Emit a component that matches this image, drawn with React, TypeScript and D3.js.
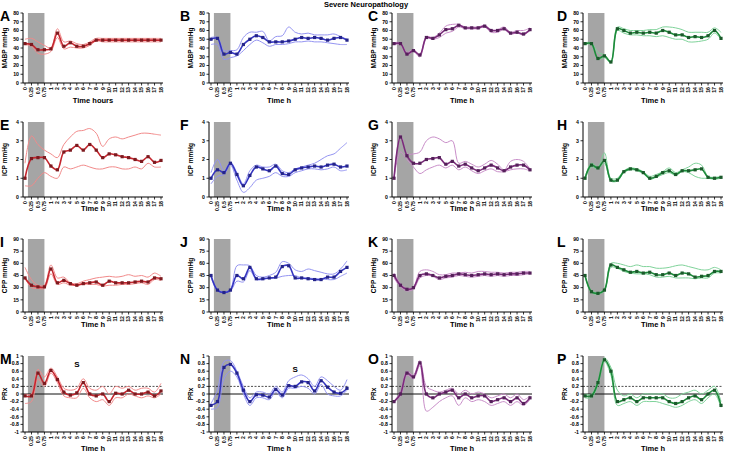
import * as d3 from "d3";
import React from "react";

const timeLabels = ["0", "0.25", "0.5", "0.75", "1", "2", "3", "4", "5", "6", "7", "8", "9", "10", "11", "12", "13", "14", "15", "16", "17", "18"];

// MABP
const aMean = [45, 44, 38, 38, 39, 57, 42, 46, 42, 42, 45, 49, 49, 49, 49, 49, 49, 49, 49, 49, 49, 49];
const aHigh = [50, 51, 47, 43, 40, 62, 47, 48, 45, 44, 47, 51, 51, 51, 51, 51, 51, 51, 51, 51, 51, 51];
const aLow = [44, 42, 34, 33, 36, 52, 39, 41, 40, 40, 43, 48, 47, 47, 47, 47, 47, 47, 47, 47, 47, 47];
const bMean = [50, 51, 33, 35, 33, 44, 50, 54, 52, 47, 47, 47, 48, 50, 52, 51, 52, 51, 49, 51, 52, 49];
const bHigh = [52, 52, 37, 37, 38, 52, 58, 58, 59, 48, 53, 54, 64, 58, 56, 57, 55, 55, 55, 56, 53, 50];
const bLow = [44, 44, 27, 29, 31, 37, 44, 49, 46, 42, 44, 44, 45, 47, 47, 48, 47, 47, 46, 45, 44, 44];
const cMean = [45, 45, 33, 37, 32, 52, 51, 55, 61, 62, 66, 63, 63, 63, 65, 60, 60, 62, 57, 58, 56, 61];
const cHigh = [46, 46, 35, 38, 33, 53, 52, 57, 65, 67, 67, 64, 64, 64, 66, 61, 61, 64, 58, 60, 60, 63];
const cLow = [44, 44, 32, 36, 30, 51, 50, 52, 57, 59, 64, 62, 62, 62, 64, 58, 58, 61, 56, 57, 55, 60];
const dMean = [45, 45, 28, 31, 24, 62, 60, 57, 58, 57, 58, 57, 60, 58, 55, 55, 52, 53, 52, 54, 60, 51];
const dHigh = [46, 46, 35, 32, 25, 64, 62, 60, 60, 60, 61, 61, 64, 64, 63, 61, 58, 58, 58, 58, 63, 58];
const dLow = [44, 44, 27, 29, 23, 60, 57, 55, 55, 54, 54, 53, 54, 52, 50, 50, 47, 47, 48, 50, 57, 50];

// ICP
const eMean = [1.0, 2.05, 2.1, 2.1, 1.65, 1.45, 2.4, 2.5, 2.75, 2.5, 2.8, 2.5, 2.1, 2.3, 2.25, 2.15, 2.1, 2.0, 1.9, 2.15, 1.85, 1.95];
const eHigh = [1.8, 3.25, 2.8, 2.5, 2.3, 2.1, 2.8, 3.2, 3.5, 3.55, 3.65, 3.4, 2.7, 3.1, 3.2, 3.1, 3.2, 3.3, 3.4, 3.4, 3.35, 3.3];
const eLow = [0.6, 0.6, 1.0, 1.3, 1.1, 1.0, 1.6, 1.5, 1.6, 1.7, 1.6, 1.5, 1.5, 1.6, 1.6, 1.5, 1.5, 1.6, 1.5, 1.8, 1.6, 1.6];
const fMean = [1.0, 1.45, 1.3, 1.8, 1.2, 0.6, 1.15, 1.6, 1.5, 1.4, 1.65, 1.25, 1.2, 1.45, 1.55, 1.6, 1.65, 1.6, 1.7, 1.75, 1.6, 1.65];
const fHigh = [1.3, 2.0, 1.4, 1.85, 1.3, 0.7, 1.4, 1.7, 1.6, 1.6, 1.75, 1.4, 1.3, 1.5, 1.6, 1.7, 1.8, 2.0, 2.2, 2.3, 2.6, 2.9];
const fLow = [0.7, 1.1, 1.2, 1.7, 0.9, 0.25, 0.5, 0.9, 1.0, 1.1, 1.3, 1.1, 1.1, 1.3, 1.4, 1.5, 1.5, 1.45, 1.5, 1.6, 1.4, 1.45];
const gMean = [1.0, 3.2, 2.2, 1.8, 1.8, 2.0, 2.05, 2.1, 1.75, 1.9, 1.65, 1.75, 1.55, 1.4, 1.55, 1.7, 1.55, 1.4, 1.6, 1.7, 1.7, 1.45];
const gHigh = [1.0, 3.3, 2.3, 2.3, 2.4, 3.0, 3.2, 3.1, 2.9, 3.0, 1.8, 1.9, 1.75, 1.6, 1.75, 1.95, 1.75, 1.45, 1.9, 2.0, 1.9, 1.5];
const gLow = [1.0, 2.4, 2.0, 1.6, 1.25, 1.45, 1.6, 1.7, 1.55, 1.7, 1.45, 1.6, 1.4, 1.25, 1.4, 1.5, 1.35, 1.35, 1.45, 1.5, 1.5, 1.4];
const hMean = [1.0, 1.7, 1.55, 1.95, 0.9, 0.9, 1.35, 1.5, 1.45, 1.3, 1.0, 1.1, 1.3, 1.4, 1.2, 1.4, 1.4, 1.45, 1.5, 1.05, 1.0, 1.05];
const hHigh = [1.05, 1.8, 1.6, 2.35, 1.0, 1.0, 1.4, 1.55, 1.5, 1.35, 1.1, 1.2, 1.35, 1.55, 1.3, 1.45, 1.6, 1.8, 1.7, 1.1, 1.05, 1.1];
const hLow = [0.95, 1.6, 1.5, 1.8, 0.85, 0.85, 1.3, 1.45, 1.4, 1.25, 0.95, 1.05, 1.2, 1.3, 1.15, 1.35, 1.3, 1.1, 1.0, 1.0, 0.95, 1.0];

// CPP
const iMean = [42, 33, 31, 31, 53, 36, 39, 35, 33, 35, 36, 37, 33, 38, 36, 36, 36, 37, 38, 37, 42, 41];
const iHigh = [55, 40, 33, 33, 58, 42, 43, 36, 35, 38, 40, 42, 43, 44, 43, 44, 46, 44, 45, 43, 48, 44];
const iLow = [42, 30, 29, 29, 47, 34, 36, 33, 33, 34, 34, 34, 32, 33, 33, 34, 34, 35, 36, 34, 40, 39];
const jMean = [45, 27, 24, 27, 45, 41, 55, 41, 41, 42, 43, 56, 57, 42, 42, 41, 40, 40, 43, 43, 50, 55];
const jHigh = [45, 28, 25, 28, 57, 58, 57, 45, 43, 45, 49, 62, 60, 52, 50, 53, 51, 49, 47, 47, 53, 63];
const jLow = [43, 26, 24, 26, 38, 37, 51, 40, 40, 42, 42, 44, 45, 45, 42, 42, 41, 41, 40, 40, 44, 48];
const kMean = [45, 33, 28, 30, 45, 47, 45, 42, 44, 45, 47, 46, 45, 46, 47, 46, 47, 46, 47, 47, 48, 48];
const kHigh = [48, 35, 29, 31, 50, 52, 50, 46, 46, 48, 48, 49, 48, 50, 50, 49, 49, 48, 49, 49, 50, 50];
const kLow = [42, 31, 26, 28, 42, 45, 44, 40, 42, 43, 45, 44, 43, 44, 45, 44, 45, 44, 45, 45, 46, 47];
const lMean = [45, 25, 23, 27, 58, 55, 52, 49, 50, 48, 49, 46, 46, 48, 45, 48, 47, 43, 44, 45, 50, 50];
const lHigh = [45, 26, 24, 28, 60, 60, 58, 56, 58, 56, 56, 54, 54, 55, 57, 58, 56, 54, 52, 52, 55, 52];
const lLow = [44, 24, 22, 26, 55, 54, 50, 48, 47, 47, 46, 43, 43, 44, 42, 42, 42, 41, 42, 42, 48, 48];

// PRx
const mMean = [-0.05, -0.05, 0.55, 0.28, 0.62, 0.38, 0.05, -0.03, 0.03, 0.3, 0.0, -0.05, 0.0, -0.2, 0.02, 0.0, 0.1, 0.0, 0.0, 0.05, -0.05, 0.08];
const mHigh = [0.0, 0.0, 0.65, 0.45, 0.68, 0.45, 0.15, 0.1, 0.15, 0.4, 0.15, 0.1, 0.2, 0.0, 0.2, 0.15, 0.2, 0.1, 0.15, 0.15, 0.05, 0.28];
const mLow = [-0.25, -0.2, 0.4, 0.2, 0.55, 0.3, -0.05, -0.1, -0.1, 0.15, -0.1, -0.2, -0.15, -0.3, -0.1, -0.1, 0.0, -0.05, -0.1, -0.05, -0.1, 0.0];
const nMean = [-0.3, -0.2, 0.7, 0.78, 0.55, 0.1, -0.2, -0.02, -0.03, -0.08, 0.12, -0.03, 0.22, 0.2, 0.32, 0.3, 0.08, 0.35, 0.18, 0.05, 0.02, 0.15];
const nHigh = [-0.25, 0.1, 0.85, 0.88, 0.6, 0.2, -0.1, 0.05, 0.05, 0.0, 0.2, 0.05, 0.35, 0.45, 0.5, 0.4, 0.2, 0.45, 0.35, 0.2, 0.1, 0.38];
const nLow = [-0.4, -0.35, 0.4, 0.6, 0.45, 0.0, -0.3, -0.1, -0.1, -0.15, 0.05, -0.1, 0.15, 0.15, 0.2, 0.15, 0.0, 0.25, 0.0, -0.05, -0.05, 0.1];
const oMean = [-0.2, 0.0, 0.55, 0.45, 0.82, 0.0, -0.1, 0.0, 0.05, 0.1, -0.1, 0.0, -0.1, -0.05, -0.05, -0.2, -0.15, -0.1, -0.2, -0.1, -0.25, -0.1];
const oHigh = [-0.2, 0.05, 0.6, 0.5, 0.88, 0.2, 0.1, 0.05, 0.1, 0.15, 0.0, 0.1, 0.0, 0.05, 0.0, -0.1, -0.05, 0.0, -0.1, 0.0, -0.15, -0.05];
const oLow = [-0.2, -0.05, 0.5, 0.4, 0.75, -0.45, -0.35, -0.2, -0.1, -0.05, -0.3, -0.1, -0.2, -0.15, -0.2, -0.3, -0.25, -0.2, -0.3, -0.2, -0.3, -0.15];
const pMean = [-0.05, -0.05, 0.3, 0.9, 0.6, -0.2, -0.15, -0.1, -0.2, -0.1, -0.1, -0.1, -0.1, -0.2, -0.25, -0.2, -0.1, -0.05, -0.15, 0.0, 0.1, -0.3];
const pHigh = [0.0, 0.0, 0.35, 0.95, 0.7, 0.1, -0.05, 0.0, -0.1, 0.0, 0.0, 0.0, 0.0, -0.1, -0.1, 0.0, 0.05, 0.1, 0.0, 0.1, 0.2, -0.2];
const pLow = [-0.1, -0.1, 0.25, 0.85, 0.5, -0.3, -0.25, -0.2, -0.3, -0.2, -0.2, -0.2, -0.25, -0.3, -0.35, -0.3, -0.2, -0.15, -0.25, -0.1, 0.0, -0.35];

const mabpTicks = [0, 10, 20, 30, 40, 50, 60, 70, 80];
const icpTicks = [0, 1, 2, 3, 4];
const cppTicks = [0, 15, 30, 45, 60, 75, 90];
const prxTicks = [-1, -0.8, -0.6, -0.4, -0.2, 0, 0.2, 0.4, 0.6, 0.8, 1];

const palettes = [
  { mean: "#c4262e", dot: "#7d1a1f", light: "#f28a8a" },
  { mean: "#3535c0", dot: "#24248a", light: "#9494f2" },
  { mean: "#7b2c7b", dot: "#55205a", light: "#c98ec9" },
  { mean: "#1d8a3a", dot: "#1b5a2b", light: "#7fd39a" },
];

const rows = [
  { label: "MABP mmHg", ticks: mabpTicks, letters: "ABCD", series: [[aMean, aHigh, aLow], [bMean, bHigh, bLow], [cMean, cHigh, cLow], [dMean, dHigh, dLow]] },
  { label: "ICP mmHg", ticks: icpTicks, letters: "EFGH", series: [[eMean, eHigh, eLow], [fMean, fHigh, fLow], [gMean, gHigh, gLow], [hMean, hHigh, hLow]] },
  { label: "CPP mmHg", ticks: cppTicks, letters: "IJKL", series: [[iMean, iHigh, iLow], [jMean, jHigh, jLow], [kMean, kHigh, kLow], [lMean, lHigh, lLow]] },
  { label: "PRx", ticks: prxTicks, letters: "MNOP", series: [[mMean, mHigh, mLow], [nMean, nHigh, nLow], [oMean, oHigh, oLow], [pMean, pHigh, pLow]] },
];

const rowTop = [13, 122, 239, 356];
const rowH = [70, 75, 73, 76];
const xTitleY = [103, 211, 327, 451];
const colAxis = [23, 209, 392, 583];
const letterX = [0, 180, 368, 557];
const plotW = 140;
const font = "Arial, 'Liberation Sans', sans-serif";

// significance marks (row 3 = PRx): [col, time label, value]
const sigMarks: [number, string, number][] = [[0, "5", 0.78], [1, "10", 0.66]];

function Panel({ r, c }: { r: number; c: number }) {
  const row = rows[r];
  const pal = palettes[c];
  const [mean, hi, lo] = row.series[c];
  const x0 = colAxis[c];
  const top = rowTop[r];
  const bottom = top + rowH[r];
  const ext = d3.extent(row.ticks) as [number, number];
  const x = d3.scalePoint<string>().domain(timeLabels).range([x0 + 2, x0 + plotW - 2]);
  const y = d3.scaleLinear().domain(ext).range([bottom, top]);
  const step = x.step();
  const line = d3
    .line<number>()
    .x((_, i) => x(timeLabels[i]) as number)
    .y((d) => y(d))
    .curve(d3.curveCatmullRom.alpha(0.5));
  const yMid = (top + bottom) / 2;
  const isPrx = r === 3;
  const fmt = (v: number) => (isPrx ? String(Math.round(v * 10) / 10) : String(v));

  return (
    <g>
      <rect
        x={(x("0") as number) + step * 0.45}
        y={top}
        width={(x("0.75") as number) - (x("0") as number) - step * 0.45}
        height={bottom - top}
        fill="#a5a5a5"
      />
      {isPrx && (
        <>
          <line x1={x0} x2={x0 + plotW} y1={y(0.2)} y2={y(0.2)} stroke="#222" strokeWidth={0.8} strokeDasharray="2,1.5" />
          <line x1={x0} x2={x0 + plotW} y1={y(0)} y2={y(0)} stroke="#111" strokeWidth={1} />
        </>
      )}
      <path d={line(hi) || ""} fill="none" stroke={pal.light} strokeWidth={1} />
      <path d={line(lo) || ""} fill="none" stroke={pal.light} strokeWidth={1} />
      <path d={line(mean) || ""} fill="none" stroke={pal.mean} strokeWidth={1.6} />
      {mean.map((v, i) => (
        <rect key={i} x={(x(timeLabels[i]) as number) - 1.6} y={y(v) - 1.6} width={3.2} height={3.2} fill={pal.dot} />
      ))}
      {/* axes */}
      <line x1={x0} x2={x0} y1={top} y2={bottom} stroke="#000" strokeWidth={1} />
      <line x1={x0} x2={x0 + plotW} y1={bottom} y2={bottom} stroke="#000" strokeWidth={1} />
      {row.ticks.map((t) => (
        <g key={t}>
          <line x1={x0 - 2.5} x2={x0} y1={y(t)} y2={y(t)} stroke="#000" strokeWidth={0.8} />
          <text x={x0 - 4} y={y(t) + 1.8} fontSize={5.2} fontWeight="bold" textAnchor="end" fontFamily={font}>
            {fmt(t)}
          </text>
        </g>
      ))}
      {timeLabels.map((t) => (
        <g key={t}>
          <line x1={x(t)} x2={x(t)} y1={bottom} y2={bottom + 2.5} stroke="#000" strokeWidth={0.8} />
          <text
            transform={`translate(${(x(t) as number) + 1.8},${bottom + 4}) rotate(-90)`}
            fontSize={5.2}
            fontWeight="bold"
            textAnchor="end"
            fontFamily={font}
          >
            {t}
          </text>
        </g>
      ))}
      <text
        transform={`translate(${x0 - 16},${yMid}) rotate(-90)`}
        fontSize={6.5}
        fontWeight="bold"
        textAnchor="middle"
        fontFamily={font}
      >
        {row.label}
      </text>
      <text x={x0 + plotW / 2} y={xTitleY[r]} fontSize={7.5} fontWeight="bold" textAnchor="middle" fontFamily={font}>
        {r === 0 && c === 0 ? "Time hours" : "Time h"}
      </text>
      <text x={letterX[c]} y={top + 7.5} fontSize={14} fontWeight="bold" fontFamily={font}>
        {row.letters[c]}
      </text>
      {isPrx &&
        sigMarks
          .filter((s) => s[0] === c)
          .map((s, i) => (
            <text key={i} x={x(s[1])} y={y(s[2]) + 3} fontSize={8} fontWeight="bold" textAnchor="middle" fontFamily={font}>
              S
            </text>
          ))}
    </g>
  );
}

export default function App() {
  return (
    <svg
      width={729}
      height={453}
      style={{ position: "absolute", left: 0, top: 0, background: "#fff" }}
    >
      <rect width={729} height={453} fill="#fff" />
      <text x={366} y={6.5} fontSize={7.5} fontWeight="bold" textAnchor="middle" fontFamily={font}>
        Severe Neuropathology
      </text>
      {rows.map((_, r) => [0, 1, 2, 3].map((c) => <Panel key={`${r}-${c}`} r={r} c={c} />))}
    </svg>
  );
}
